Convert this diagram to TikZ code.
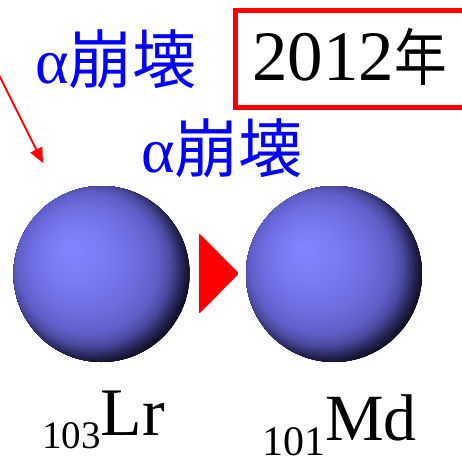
\documentclass[tikz,border=0pt]{standalone}
\usepackage{fontspec}
\setmainfont{Liberation Serif}
\newfontfamily\cjk{Noto Sans CJK JP}
\usetikzlibrary{arrows.meta}

\definecolor{decayblue}{RGB}{0,0,255}
\definecolor{markred}{RGB}{255,0,0}
\definecolor{sphA}{RGB}{132,132,255}
\definecolor{sphB}{RGB}{122,122,242}
\definecolor{sphC}{RGB}{110,110,226}
\definecolor{sphD}{RGB}{96,96,202}
\definecolor{sphE}{RGB}{74,74,160}
\definecolor{sphF}{RGB}{38,38,88}
\definecolor{sphG}{RGB}{8,8,22}

% One band of a sphere gradient, painted as nested discs whose centres slide
% towards the upper-left highlight.  Radii are given on a 0..70 scale where 50
% is the sphere's own edge.
% #1,#2 centre  #3 sphere radius (pt)  #4 r0  #5 r1  #6 colour at r0  #7 colour at r1  #8 step
\newcommand\ballband[8]{%
  \pgfmathtruncatemacro\bandsteps{(#5-#4)/#8}%
  \foreach \i in {0,...,\bandsteps}{%
    \pgfmathsetmacro\rr{#5-\i*#8}%
    \pgfmathsetmacro\sc{#3/50}%
    \pgfmathsetmacro\tt{1-\rr/70}%
    \pgfmathsetmacro\bx{#1-18*\sc*\tt}%
    \pgfmathsetmacro\by{#2-14*\sc*\tt}%
    \pgfmathsetmacro\rad{\rr*\sc}%
    \pgfmathtruncatemacro\pc{100*(\rr-#4)/(#5-#4)}%
    \fill[#7!\pc!#6] (\bx,\by) circle[radius=\rad pt];
  }%
}
\newcommand\nucleusfill[3]{%
  \begin{scope}
    \clip (#1,#2) circle[radius=#3 pt];
    \fill[black] (#1,#2) circle[radius=#3 pt];
    \ballband{#1}{#2}{#3}{51}{56}{sphF}{sphG}{0.5}
    \ballband{#1}{#2}{#3}{46}{51}{sphE}{sphF}{0.5}
    \ballband{#1}{#2}{#3}{40}{46}{sphD}{sphE}{0.5}
    \ballband{#1}{#2}{#3}{30}{40}{sphC}{sphD}{1}
    \ballband{#1}{#2}{#3}{17}{30}{sphB}{sphC}{1}
    \ballband{#1}{#2}{#3}{0}{17}{sphA}{sphB}{1}
  \end{scope}%
}

\tikzset{
  decaylabel/.style={inner sep=0pt, anchor=base west, text=decayblue,
    font=\fontsize{64}{66}\selectfont},
  nucleusball/.style={circle, minimum size=176pt, inner sep=0pt},
  element/.style={inner sep=0pt, anchor=base west},
  yearbox/.style={draw=markred, line width=5pt, rectangle, inner sep=0pt,
    anchor=north west, minimum width=250pt, minimum height=97pt},
  pointer/.style={draw=markred, line width=2pt,
    -{Triangle[length=15pt,width=13pt]}},
}

\begin{document}
\begin{tikzpicture}[x=1pt,y=-1pt]
  \useasboundingbox (0,0) rectangle (462,469);
  \clip (0,0) rectangle (462,469);

  % decay labels
  \node[decaylabel] (decayA) at (35,83) {α{\cjk 崩壊}};
  \node[decaylabel] (decayB) at (141,172) {α{\cjk 崩壊}};

  % year frame
  \node[yearbox] (frame) at (233,7.5) {};
  \node[element, font=\fontsize{71}{72}\selectfont] (year) at (252,80)
    {2012{\cjk\fontsize{62}{62}\selectfont\scalebox{0.85}[1]{年}}};

  % incoming pointer
  \coordinate (src) at (-6,65);
  \coordinate (dst) at (43,163);
  \draw[pointer] (src) -- (dst);

  % nuclei
  \nucleusfill{101.5}{274}{88}
  \nucleusfill{334}{274}{88}
  \node[nucleusball] (lr) at (101.5,274) {};
  \node[nucleusball] (md) at (334,274) {};

  % decay direction marker
  \fill[markred, rounded corners=2pt] (199,233) -- (239,273.5) -- (199,314) -- cycle;

  % element symbols
  \node[element] (lrname) at (42,448)
    {\fontsize{39}{39}\selectfont 103\raisebox{13pt}{\fontsize{68}{68}\selectfont Lr}};
  \node[element] (mdname) at (262,455)
    {\fontsize{42}{42}\selectfont 101\raisebox{15pt}{\fontsize{66}{66}\selectfont Md}};
\end{tikzpicture}
\end{document}
